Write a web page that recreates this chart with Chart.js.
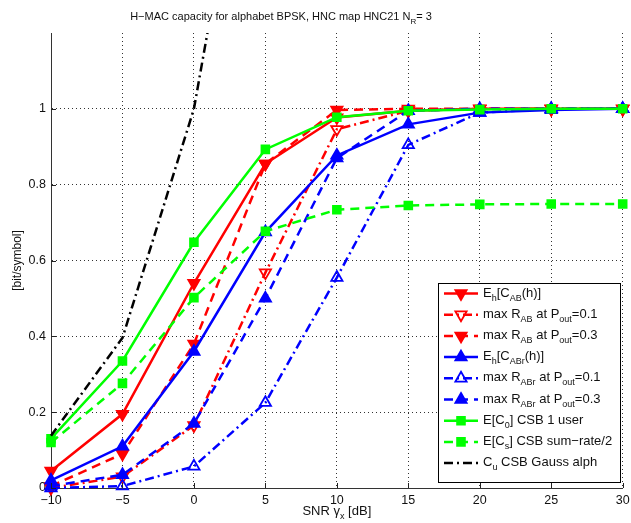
<!DOCTYPE html>
<html><head><meta charset="utf-8">
<script src="https://cdn.jsdelivr.net/npm/chart.js@4/dist/chart.umd.min.js"></script>
<style>html,body{margin:0;padding:0;background:#fff}#wrap{width:631px;height:523px;position:relative}</style>
</head><body><div id="wrap"><canvas id="c" width="631" height="523"></canvas></div>
<script>
// ---- data ----
const snr = [-10, -5, 0, 5, 10, 15, 20, 25, 30];
const eCAB   = [0.045, 0.195, 0.54, 0.855, 0.977, 0.995, 1.0, 1.0, 1.0];
const rAB01  = [0.0, 0.03, 0.165, 0.568, 0.946, 0.995, 1.0, 1.0, 1.0];
const rAB03  = [0.005, 0.09, 0.38, 0.855, 0.997, 1.0, 1.0, 1.0, 1.0];
const eCABr  = [0.02, 0.11, 0.36, 0.675, 0.877, 0.959, 0.99, 0.997, 1.0];
const rABr01 = [0.0, 0.005, 0.057, 0.225, 0.555, 0.905, 0.99, 1.0, 1.0];
const rABr03 = [0.005, 0.035, 0.17, 0.5, 0.87, 0.995, 1.0, 1.0, 1.0];
const eC0    = [0.13, 0.335, 0.648, 0.893, 0.978, 0.995, 0.998, 1.0, 1.0];
const eCs    = [0.12, 0.276, 0.502, 0.677, 0.734, 0.745, 0.748, 0.749, 0.749];
const cGauss = [0.138, 0.396, 1.0, 2.06, 3.46, 5.03, 6.66, 8.31, 9.97];
const xTicks = [-10, -5, 0, 5, 10, 15, 20, 25, 30];
const yTicks = [0, 0.2, 0.4, 0.6, 0.8, 1];

// text pieces: [text, 0 = normal, 1 = subscript]
const titleParts = [['H\u2212MAC capacity for alphabet BPSK, HNC map HNC21 N',0],['R',1],['= 3',0]];
const xTitleParts = [['SNR \u03b3',0],['x',1],[' [dB]',0]];
const yTitle = '[bit/symbol]';
const legendLabels = [
  [['E',0],['h',1],['[C',0],['AB',1],['(h)]',0]],
  [['max R',0],['AB',1],[' at P',0],['out',1],['=0.1',0]],
  [['max R',0],['AB',1],[' at P',0],['out',1],['=0.3',0]],
  [['E',0],['h',1],['[C',0],['ABr',1],['(h)]',0]],
  [['max R',0],['ABr',1],[' at P',0],['out',1],['=0.1',0]],
  [['max R',0],['ABr',1],[' at P',0],['out',1],['=0.3',0]],
  [['E[C',0],['0',1],['] CSB 1 user',0]],
  [['E[C',0],['s',1],['] CSB sum\u2212rate/2',0]],
  [['C',0],['u',1],[' CSB Gauss alph',0]]
];

// ---- styles ----
const FF = '"Liberation Sans", Arial, Helvetica, sans-serif';
const DASH = [9, 6];
const DASHDOT = [9, 4, 2, 4];
const styles = [
  {v: eCAB,   c: '#ff0000', d: [],      m: 'triangle', r: 180, f: true},
  {v: rAB01,  c: '#ff0000', d: DASHDOT, m: 'triangle', r: 180, f: false},
  {v: rAB03,  c: '#ff0000', d: DASH,    m: 'triangle', r: 180, f: true},
  {v: eCABr,  c: '#0000ff', d: [],      m: 'triangle', r: 0,   f: true},
  {v: rABr01, c: '#0000ff', d: DASHDOT, m: 'triangle', r: 0,   f: false},
  {v: rABr03, c: '#0000ff', d: DASH,    m: 'triangle', r: 0,   f: true},
  {v: eC0,    c: '#00ff00', d: [],      m: 'rect',     r: 0,   f: true},
  {v: eCs,    c: '#00ff00', d: DASH,    m: 'rect',     r: 0,   f: true},
  {v: cGauss, c: '#000000', d: DASHDOT, m: false,      r: 0,   f: false}
];
function mRadius(s){ return s.m === 'rect' ? 5.5 : 6.5; }

const datasets = styles.map((s, i) => ({
  data: snr.map((x, j) => ({x: x, y: s.v[j]})),
  borderColor: s.c,
  backgroundColor: s.c,
  borderWidth: 2.5,
  borderDash: s.d,
  pointStyle: s.m || 'circle',
  pointRotation: s.r,
  pointRadius: s.m ? mRadius(s) : 0,
  pointBorderWidth: 1.8,
  pointBorderColor: s.c,
  pointBackgroundColor: s.f ? s.c : 'rgba(255,255,255,0)',
  tension: 0,
  fill: false,
  order: styles.length - i,
  clip: s.m ? false : {left: false, right: false, bottom: false, top: 0}
}));

function richWidth(ctx, parts, size){
  const sub = Math.round(size * 0.72);
  let w = 0;
  parts.forEach(([t,k]) => { ctx.font = (k ? sub : size) + 'px ' + FF; w += ctx.measureText(t).width; });
  return w;
}
function drawRich(ctx, parts, x, y, size, align){
  const sub = Math.round(size * 0.72);
  let cx = align === 'center' ? x - richWidth(ctx, parts, size) / 2 : x;
  ctx.textAlign = 'left';
  ctx.textBaseline = 'alphabetic';
  parts.forEach(([t,k]) => {
    ctx.font = (k ? sub : size) + 'px ' + FF;
    ctx.fillText(t, cx, y + (k === 1 ? size * 0.32 : 0));
    cx += ctx.measureText(t).width;
  });
}
function drawMarker(ctx, s, x, y){
  const rad = mRadius(s);
  ctx.save();
  ctx.setLineDash([]);
  ctx.lineWidth = 1.8;
  ctx.strokeStyle = s.c;
  ctx.fillStyle = s.f ? s.c : 'rgba(255,255,255,0)';
  ctx.beginPath();
  if (s.m === 'triangle') {
    let a = s.r * Math.PI / 180;
    ctx.moveTo(x + Math.sin(a) * rad, y - Math.cos(a) * rad);
    a += 2 * Math.PI / 3;
    ctx.lineTo(x + Math.sin(a) * rad, y - Math.cos(a) * rad);
    a += 2 * Math.PI / 3;
    ctx.lineTo(x + Math.sin(a) * rad, y - Math.cos(a) * rad);
    ctx.closePath();
  } else {
    const h = rad / Math.SQRT2;
    ctx.rect(x - h, y - h, 2 * h, 2 * h);
  }
  ctx.fill();
  ctx.stroke();
  ctx.restore();
}

const decor = {
  id: 'decor',
  afterDraw(chart){
    const ctx = chart.ctx;
    const xs = chart.scales.x, ys = chart.scales.y, a = chart.chartArea;
    ctx.save();
    // inward tick marks
    ctx.strokeStyle = '#222';
    ctx.lineWidth = 1;
    ctx.setLineDash([]);
    xTicks.forEach(v => { const px = Math.round(xs.getPixelForValue(v)) + 0.5; ctx.beginPath(); ctx.moveTo(px, a.bottom); ctx.lineTo(px, a.bottom - 5); ctx.stroke(); });
    yTicks.forEach(v => { const py = Math.round(ys.getPixelForValue(v)) + 0.5; ctx.beginPath(); ctx.moveTo(a.left, py); ctx.lineTo(a.left + 5, py); ctx.stroke(); });
    ctx.fillStyle = '#111';
    // title
    drawRich(ctx, titleParts, 281, 20, 11, 'center');
    // x title
    drawRich(ctx, xTitleParts, (a.left + a.right) / 2, 515, 13, 'center');
    // y title
    ctx.save();
    ctx.translate(21, (a.top + a.bottom) / 2);
    ctx.rotate(-Math.PI / 2);
    ctx.font = '12px ' + FF;
    ctx.textAlign = 'center';
    ctx.textBaseline = 'alphabetic';
    ctx.fillText(yTitle, 0, 0);
    ctx.restore();
    // legend
    const L = 438, T = 283, R = 620, B = 482;
    ctx.fillStyle = '#fff';
    ctx.fillRect(L, T, R - L, B - T);
    ctx.strokeStyle = '#000';
    ctx.lineWidth = 1;
    ctx.strokeRect(L + 0.5, T + 0.5, R - L, B - T);
    const rowH = 21.2;
    styles.forEach((s, i) => {
      const cy = T + 10.5 + i * rowH;
      ctx.save();
      ctx.strokeStyle = s.c;
      ctx.lineWidth = 2.5;
      ctx.setLineDash(s.d);
      ctx.beginPath();
      ctx.moveTo(444, cy);
      ctx.lineTo(478, cy);
      ctx.stroke();
      ctx.restore();
      if (s.m) drawMarker(ctx, s, 461, cy);
      ctx.fillStyle = '#111';
      drawRich(ctx, legendLabels[i], 483, cy + 3, 13, 'left');
    });
    ctx.restore();
  }
};

new Chart(document.getElementById('c'), {
  type: 'line',
  data: {datasets: datasets},
  options: {
    responsive: false,
    devicePixelRatio: 1,
    animation: false,
    layout: {padding: {left: 0, right: 7, top: 33, bottom: 0}},
    plugins: {legend: {display: false}, title: {display: false}, tooltip: {enabled: false}},
    scales: {
      x: {
        type: 'linear', min: -10, max: 30,
        afterBuildTicks: s => { s.ticks = xTicks.map(v => ({value: v})); },
        afterFit: s => { s.height = 35; s.paddingLeft = 0; s.paddingRight = 0; },
        ticks: {color: '#111', font: {family: FF, size: 12.5}, padding: 5, maxRotation: 0, autoSkip: false,
                callback: v => String(v).replace('-', '\u2212')},
        grid: {color: 'rgba(0,0,0,0.8)', lineWidth: 1, drawTicks: false},
        border: {display: true, color: '#333', width: 1, dash: [1, 3]}
      },
      y: {
        type: 'linear', min: 0, max: 1.2,
        afterBuildTicks: s => { s.ticks = yTicks.map(v => ({value: v})); },
        afterFit: s => { s.width = 51; s.paddingTop = 0; s.paddingBottom = 0; },
        ticks: {color: '#111', font: {family: FF, size: 12.5}, padding: 5,
                callback: v => String(Math.round(v * 10) / 10)},
        grid: {color: ctx => (ctx.tick && ctx.tick.value === 0) ? 'rgba(0,0,0,0)' : 'rgba(0,0,0,0.8)', lineWidth: 1, drawTicks: false},
        border: {display: true, color: '#333', width: 1, dash: [1, 3]}
      }
    }
  },
  plugins: [decor]
});
</script>
</body></html>
